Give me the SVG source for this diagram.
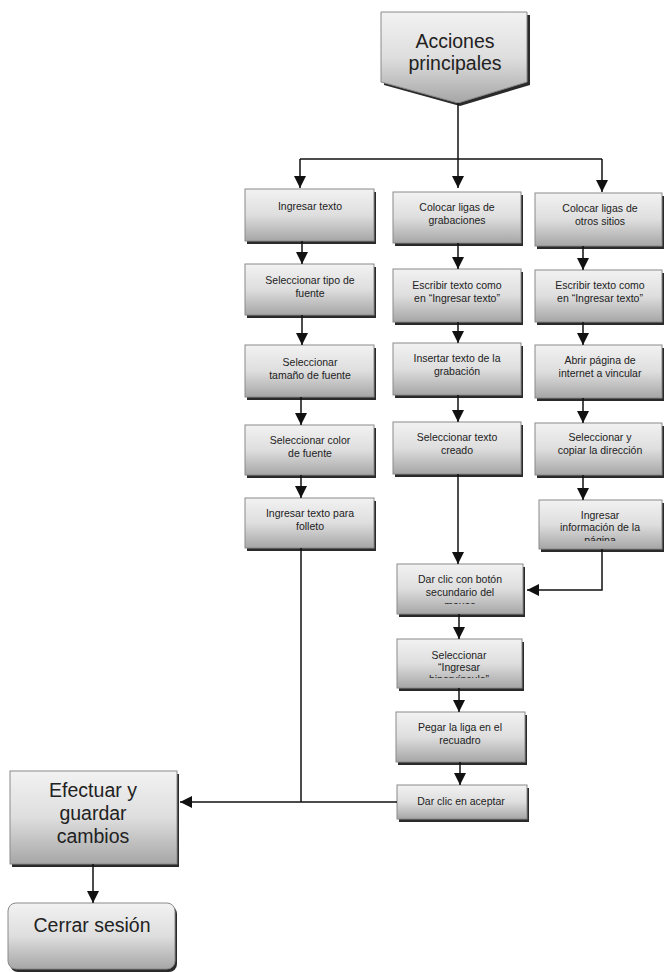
<svg xmlns="http://www.w3.org/2000/svg" width="666" height="972" viewBox="0 0 666 972">
<defs>
<linearGradient id="g" x1="0" y1="0" x2="0" y2="1">
<stop offset="0" stop-color="#f2f2f2"/>
<stop offset="0.5" stop-color="#dedede"/>
<stop offset="1" stop-color="#a6a6a6"/>
</linearGradient>
<marker id="ah" viewBox="0 0 12 12" refX="12" refY="6" markerWidth="12" markerHeight="12" markerUnits="userSpaceOnUse" orient="auto">
<path d="M0,0 L12,6 L0,12 z" fill="#111"/>
</marker>
<clipPath id="c1"><rect x="539" y="500" width="123" height="41"/></clipPath>
<clipPath id="c2"><rect x="397" y="564" width="126" height="40"/></clipPath>
<clipPath id="c3"><rect x="397" y="639" width="125" height="39"/></clipPath>
</defs>
<style>
.sh{fill:#2a2a2a}
.bx{fill:url(#g);stroke:#8a8a8a;stroke-width:1}
.t{font-family:"Liberation Sans",Arial,sans-serif;font-size:10.5px;fill:#222;text-anchor:middle}
.tb{font-family:"Liberation Sans",Arial,sans-serif;font-size:19.5px;fill:#222;text-anchor:middle}
.ln{fill:none;stroke:#111;stroke-width:1.5}
</style>
<rect width="666" height="972" fill="#fff"/>

<g id="n_acciones">
<path d="M384,15 L530,15 L530,85 L460,106 L384,85 z" class="sh"/>
<path d="M381,12 L527,12 L527,82 L458,103 L381,82 z" class="bx"/>
<text class="tb" x="455" y="48">Acciones</text>
<text class="tb" x="455" y="70">principales</text>
</g>

<g id="n_ingresar_texto"><rect x="247" y="192" width="129" height="52" class="sh"/><rect x="245" y="189" width="129" height="52" class="bx"/><text class="t" x="310" y="210">Ingresar texto</text></g>
<g id="n_tipo_fuente"><rect x="247" y="267" width="129" height="51" class="sh"/><rect x="245" y="264" width="129" height="51" class="bx"/><text class="t" x="310" y="284">Seleccionar tipo de</text><text class="t" x="310" y="297">fuente</text></g>
<g id="n_tamano_fuente"><rect x="247" y="348" width="129" height="52" class="sh"/><rect x="245" y="345" width="129" height="52" class="bx"/><text class="t" x="310" y="366">Seleccionar</text><text class="t" x="310" y="379">tamaño de fuente</text></g>
<g id="n_color_fuente"><rect x="247" y="428" width="129" height="50" class="sh"/><rect x="245" y="425" width="129" height="50" class="bx"/><text class="t" x="310" y="444">Seleccionar color</text><text class="t" x="310" y="457">de fuente</text></g>
<g id="n_folleto"><rect x="247" y="501" width="129" height="50" class="sh"/><rect x="245" y="498" width="129" height="50" class="bx"/><text class="t" x="310" y="517">Ingresar texto para</text><text class="t" x="310" y="530">folleto</text></g>

<g id="n_ligas_grab"><rect x="395" y="195" width="128" height="51" class="sh"/><rect x="393" y="192" width="128" height="51" class="bx"/><text class="t" x="457" y="211">Colocar ligas de</text><text class="t" x="457" y="224">grabaciones</text></g>
<g id="n_escribir2"><rect x="395" y="272" width="128" height="53" class="sh"/><rect x="393" y="269" width="128" height="53" class="bx"/><text class="t" x="457" y="289">Escribir texto como</text><text class="t" x="457" y="302">en “Ingresar texto”</text></g>
<g id="n_insertar"><rect x="395" y="346" width="128" height="52" class="sh"/><rect x="393" y="343" width="128" height="52" class="bx"/><text class="t" x="457" y="362">Insertar texto de la</text><text class="t" x="457" y="375">grabación</text></g>
<g id="n_sel_texto"><rect x="395" y="425" width="128" height="52" class="sh"/><rect x="393" y="422" width="128" height="52" class="bx"/><text class="t" x="457" y="441">Seleccionar texto</text><text class="t" x="457" y="454">creado</text></g>

<g id="n_ligas_otros"><rect x="537" y="196" width="127" height="53" class="sh"/><rect x="535" y="193" width="127" height="53" class="bx"/><text class="t" x="600" y="212">Colocar ligas de</text><text class="t" x="600" y="225">otros sitios</text></g>
<g id="n_escribir3"><rect x="537" y="273" width="127" height="52" class="sh"/><rect x="535" y="270" width="127" height="52" class="bx"/><text class="t" x="600" y="289">Escribir texto como</text><text class="t" x="600" y="302">en “Ingresar texto”</text></g>
<g id="n_abrir"><rect x="537" y="348" width="127" height="53" class="sh"/><rect x="535" y="345" width="127" height="53" class="bx"/><text class="t" x="600" y="364">Abrir página de</text><text class="t" x="600" y="377">internet a vincular</text></g>
<g id="n_copiar"><rect x="537" y="426" width="127" height="52" class="sh"/><rect x="535" y="423" width="127" height="52" class="bx"/><text class="t" x="600" y="441">Seleccionar y</text><text class="t" x="600" y="454">copiar la dirección</text></g>
<g id="n_info"><rect x="541" y="503" width="123" height="49" class="sh"/><rect x="539" y="500" width="123" height="49" class="bx"/><g clip-path="url(#c1)"><text class="t" x="600" y="519">Ingresar</text><text class="t" x="600" y="531">información de la</text><text class="t" x="600" y="544">página</text></g></g>

<g id="n_clic_sec"><rect x="399" y="567" width="126" height="50" class="sh"/><rect x="397" y="564" width="126" height="50" class="bx"/><g clip-path="url(#c2)"><text class="t" x="460" y="583">Dar clic con botón</text><text class="t" x="460" y="596">secundario del</text><text class="t" x="460" y="609">mouse</text></g></g>
<g id="n_hipervinculo"><rect x="399" y="642" width="125" height="49" class="sh"/><rect x="397" y="639" width="125" height="49" class="bx"/><g clip-path="url(#c3)"><text class="t" x="459" y="659">Seleccionar</text><text class="t" x="459" y="671">“Ingresar</text><text class="t" x="459" y="683">hipervínculo”</text></g></g>
<g id="n_pegar"><rect x="398" y="715" width="129" height="50" class="sh"/><rect x="396" y="712" width="129" height="50" class="bx"/><text class="t" x="460" y="731">Pegar la liga en el</text><text class="t" x="460" y="744">recuadro</text></g>
<g id="n_aceptar"><rect x="399" y="788" width="130" height="34" class="sh"/><rect x="397" y="785" width="130" height="34" class="bx"/><text class="t" x="461" y="805">Dar clic en aceptar</text></g>

<g id="n_efectuar"><rect x="12" y="774" width="167" height="93" class="sh"/><rect x="10" y="771" width="167" height="93" class="bx"/><text class="tb" x="93" y="797">Efectuar y</text><text class="tb" x="93" y="820">guardar</text><text class="tb" x="93" y="843">cambios</text></g>
<g id="n_cerrar"><rect x="10" y="906" width="167" height="66" rx="8" class="sh"/><rect x="8" y="903" width="167" height="66" rx="8" class="bx"/><text class="tb" x="92" y="932">Cerrar sesión</text></g>

<g id="connectors">
<path class="ln" d="M458,103 L458,188" marker-end="url(#ah)"/>
<path class="ln" d="M300,159 L602,159"/>
<path class="ln" d="M300,159 L300,188" marker-end="url(#ah)"/>
<path class="ln" d="M602,159 L602,192" marker-end="url(#ah)"/>
<path class="ln" d="M302,241 L302,264" marker-end="url(#ah)"/>
<path class="ln" d="M302,315 L302,345" marker-end="url(#ah)"/>
<path class="ln" d="M301,397 L301,425" marker-end="url(#ah)"/>
<path class="ln" d="M301,475 L301,498" marker-end="url(#ah)"/>
<path class="ln" d="M458,243 L458,269" marker-end="url(#ah)"/>
<path class="ln" d="M458,322 L458,343" marker-end="url(#ah)"/>
<path class="ln" d="M458,395 L458,422" marker-end="url(#ah)"/>
<path class="ln" d="M458,474 L458,564" marker-end="url(#ah)"/>
<path class="ln" d="M583,246 L583,270" marker-end="url(#ah)"/>
<path class="ln" d="M583,322 L583,345" marker-end="url(#ah)"/>
<path class="ln" d="M583,398 L583,423" marker-end="url(#ah)"/>
<path class="ln" d="M583,475 L583,500" marker-end="url(#ah)"/>
<path class="ln" d="M602,549 L602,590 L527,590" marker-end="url(#ah)"/>
<path class="ln" d="M459,614 L459,639" marker-end="url(#ah)"/>
<path class="ln" d="M459,688 L459,712" marker-end="url(#ah)"/>
<path class="ln" d="M460,762 L460,785" marker-end="url(#ah)"/>
<path class="ln" d="M301,548 L301,802"/>
<path class="ln" d="M397,802 L180,802" marker-end="url(#ah)"/>
<path class="ln" d="M93,864 L93,903" marker-end="url(#ah)"/>
</g>
</svg>
